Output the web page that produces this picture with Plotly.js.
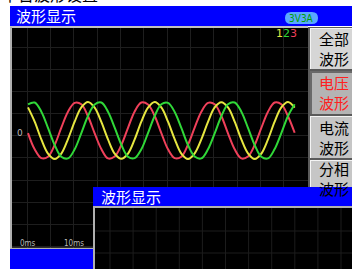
<!DOCTYPE html>
<html><head><meta charset="utf-8">
<script src="https://cdn.plot.ly/plotly-3.0.1.min.js"></script>
<style>html,body{margin:0;padding:0;background:#fff;overflow:hidden}#chart{width:352px;height:269px}</style>
</head><body><div id="chart"></div>
<script>
// ---- data ----
const timeMs = [0,2,4,6,8,10,12,14,16,18,20,22,24,26,28,30,32,34,36,38,40,42,44,46,48,50,52,54,56,58,60,62,64,66,68,70,72,74,76,78,80];
const phase1 = [-0.09,-0.66,-0.97,-0.92,-0.51,0.10,0.66,0.97,0.92,0.50,
                -0.10,-0.65,-0.98,-0.91,-0.51,0.09,0.67,0.98,0.91,0.51,
                -0.09,-0.66,-0.97,-0.92,-0.50,0.10,0.66,0.97,0.92,0.51,
                -0.10,-0.66,-0.98,-0.91,-0.51,0.09,0.66,0.98,0.92,0.50,-0.08];
const phase2 = [0.81,0.31,-0.31,-0.81,-1.00,-0.81,-0.30,0.31,0.81,1.00,
                0.80,0.30,-0.31,-0.81,-0.99,-0.81,-0.31,0.31,0.80,1.00,
                0.81,0.31,-0.30,-0.81,-1.00,-0.80,-0.31,0.30,0.81,0.99,
                0.81,0.31,-0.31,-0.80,-1.00,-0.81,-0.31,0.31,0.81,1.00,0.80];
const phase3 = [0.92,0.98,0.66,0.09,-0.51,-0.92,-0.98,-0.66,-0.09,0.51,
                0.91,0.98,0.66,0.10,-0.50,-0.92,-0.97,-0.66,-0.09,0.51,
                0.92,0.97,0.65,0.09,-0.51,-0.91,-0.98,-0.66,-0.10,0.50,
                0.92,0.98,0.66,0.09,-0.51,-0.92,-0.98,-0.65,-0.09,0.51,0.92];
const seriesNames = ['1','2','3'];
const seriesColors = ['#f0405a','#e6e640','#30d838'];
const timeLabels = ['0ms','10ms'];
const zeroLabel = '0';
const titleText = '波形显示';
const badgeText = '3V3A';
const menuLabels = ['全部<br>波形','电压<br>波形','电流<br>波形','分相<br>波形'];
const topText = '平台波形设置';

// ---- helpers (pixel -> paper) ----
const W = 352, H = 269;
const px = x => x / W, py = y => 1 - y / H;
const CJK = '"Noto Sans CJK SC", "Noto Sans", sans-serif';
const shapes = [];
function rect(x0, y0, x1, y1, fill, lineColor, lw, layer) {
  shapes.push({type:'rect', xref:'paper', yref:'paper', x0:px(x0), x1:px(x1), y0:py(y1), y1:py(y0),
    fillcolor:fill, line:{color:lineColor || 'rgba(0,0,0,0)', width:lw || 0}, layer:layer || 'above'});
}
function line(x0, y0, x1, y1, color, w) {
  shapes.push({type:'line', xref:'paper', yref:'paper', x0:px(x0), x1:px(x1), y0:py(y0), y1:py(y1),
    line:{color:color, width:w || 1}, layer:'above'});
}
const annotations = [];
function text(t, x, y, size, color, xanchor, yanchor, font) {
  annotations.push({text:t, xref:'paper', yref:'paper', x:px(x), y:py(y), showarrow:false,
    xanchor:xanchor || 'left', yanchor:yanchor || 'middle', align:'center',
    font:{family:font || CJK, size:size, color:color}});
}

// top clipped text (only its lower edge shows, as in the reference)
text(topText, 0, 8, 16, '#000', 'left', 'bottom');
// header bar
rect(10, 6, 352, 26, '#0000ff');
rect(10, 26, 308, 28, '#c0c0c0');
text(titleText, 14, 16, 15, '#ffffff', 'left', 'middle');
// badge
shapes.push({type:'path', xref:'paper', yref:'paper', layer:'above', fillcolor:'#5aa8ff', line:{width:0},
  path:(()=>{const x0=285,x1=318,y0=12,y1=24,r=6;
    const P=(x,y)=>`${px(x)},${py(y)}`;
    return `M${P(x0+r,y0)} L${P(x1-r,y0)} Q${P(x1,y0)} ${P(x1,y0+r)} Q${P(x1,y1)} ${P(x1-r,y1)} L${P(x0+r,y1)} Q${P(x0,y1)} ${P(x0,y1-r)} Q${P(x0,y0)} ${P(x0+r,y0)} Z`;})()});
text(badgeText, 301.5, 18, 10, '#00a000', 'center', 'middle', '"DejaVu Sans Condensed", sans-serif');
// main plot borders
line(11, 27, 11, 249, '#b0b0b0', 2);
line(10, 248.5, 94, 248.5, '#b0b0b0', 1.5);
// bottom-left blue bar
rect(10, 249, 94, 269, '#0000ff');
// button panel
rect(308, 27, 352, 190, '#5a5a5a');
const btn = [[310,28,69,'#d6d6d6','#000'],[310,71,114,'#b4b4b4','#ff2020'],[310,116,158,'#c6c6c6','#000'],[310,160,200,'#c6c6c6','#000']];
btn.forEach((b,i)=>{
  rect(b[0], b[1], 352, b[2], b[3]);
  if (i === 1) { line(b[0]+1, b[1], b[0]+1, b[2], '#6a6a6a', 2); line(b[0], b[1]+1, 352, b[1]+1, '#6a6a6a', 2); }
  else { line(b[0]+0.5, b[1], b[0]+0.5, b[2], '#f4f4f4', 1); line(b[0], b[1]+0.5, 352, b[1]+0.5, '#f4f4f4', 1); }
  text(menuLabels[i], 333.5, (b[1]+b[2])/2 + (i===3?-2:0), 15, b[4], 'center', 'middle');
});
// series number labels
text('<span style="color:'+seriesColors[1]+'">'+seriesNames[0]+'</span><span style="color:'+seriesColors[2]+'">'+seriesNames[1]+'</span><span style="color:'+seriesColors[0]+'">'+seriesNames[2]+'</span>',
  299, 33, 11, '#fff', 'right', 'middle', '"DejaVu Sans", sans-serif');
// axis labels
text(zeroLabel, 15, 133, 9, '#b8b8b8', 'left', 'middle', '"DejaVu Sans", sans-serif');
text(timeLabels[0], 18, 243, 8, '#b8b8b8', 'left', 'middle', '"DejaVu Sans Condensed", sans-serif');
text(timeLabels[1], 62, 243, 8, '#b8b8b8', 'left', 'middle', '"DejaVu Sans Condensed", sans-serif');
// overlay window
rect(93, 187, 352, 206, '#0000ff');
rect(93, 206, 352, 269, '#000000');
line(93, 207, 352, 207, '#b0b0b0', 2);
line(94, 207, 94, 269, '#b0b0b0', 2);
for (let x = 110; x < 352; x += 23.1) line(x, 208, x, 269, '#1c1c1c', 1);
for (let y = 231; y < 269; y += 22) line(95, y, 352, y, '#1c1c1c', 1);
text(titleText, 99, 196.5, 15, '#ffffff', 'left', 'middle');

const traces = [phase1, phase2, phase3].map((v,i)=>({
  x: timeMs, y: v, type:'scatter', mode:'lines', name: seriesNames[i],
  line:{color: seriesColors[i], width:2, shape:'spline', smoothing:1}, hoverinfo:'skip'
}));

const layout = {
  width: W, height: H, margin:{l:0,r:0,t:0,b:0}, paper_bgcolor:'#ffffff', plot_bgcolor:'#000000',
  showlegend:false,
  xaxis:{domain:[px(12), px(308)], range:[-4.8, 84], tick0:-0.3, dtick:7, showgrid:true, gridcolor:'#1e1e1e', gridwidth:1,
    zeroline:false, showticklabels:false, ticks:'', showline:false, fixedrange:true},
  yaxis:{domain:[py(248), py(28)], range:[-4.123, 3.596], tick0:2.895, dtick:0.772, showgrid:true, gridcolor:'#1e1e1e', gridwidth:1,
    zeroline:false, showticklabels:false, ticks:'', showline:false, fixedrange:true},
  shapes: shapes, annotations: annotations
};
Plotly.newPlot('chart', traces, layout, {staticPlot:true, displayModeBar:false});
</script></body></html>
